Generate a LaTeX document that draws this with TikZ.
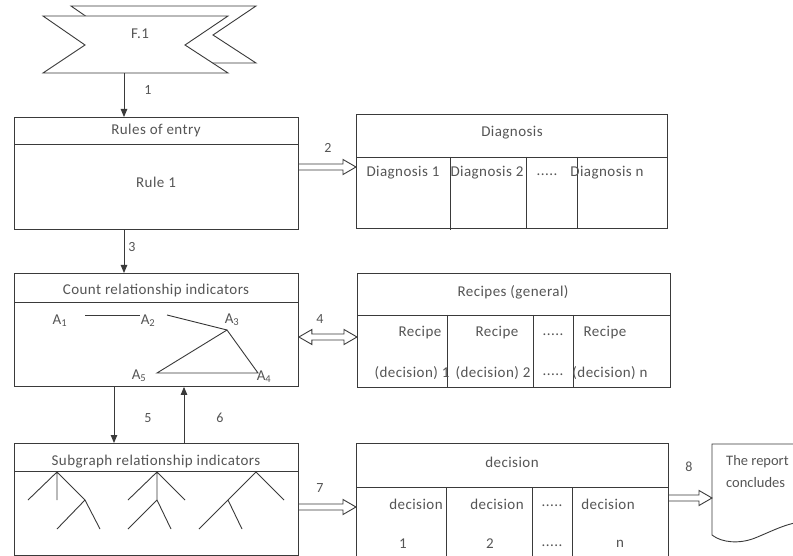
\documentclass[tikz,border=0pt]{standalone}
\usepackage{fontspec}
\setmainfont{Carlito}[LetterSpace=3]
\newfontfamily\plainfont{Carlito}
\usetikzlibrary{calc,arrows.meta}
\definecolor{ln}{HTML}{3A3A3A}
\definecolor{tx}{HTML}{555555}
\begin{document}
\begin{tikzpicture}[x=1pt,y=-1pt,
  font=\fontsize{15}{18}\selectfont,
  every node/.style={text=tx},
  box/.style={draw=ln, line width=0.9pt, anchor=north west, inner sep=0pt},
  ln/.style={draw=ln, line width=0.9pt},
  arr/.style={ln, -{Triangle[length=8pt,width=6.5pt]}},
  blk/.style={ln, to path={($(\tikztostart)+(0,-3)$) -- ($(\tikztotarget)+(-13,-3)$) -- ($(\tikztotarget)+(-13,-7.5)$) -- (\tikztotarget) -- ($(\tikztotarget)+(-13,7.5)$) -- ($(\tikztotarget)+(-13,3)$) -- ($(\tikztostart)+(0,3)$)}},
  dblk/.style={ln, to path={(\tikztostart) -- ($(\tikztostart)+(13,-7.5)$) -- ($(\tikztostart)+(13,-3)$) -- ($(\tikztotarget)+(-13,-3)$) -- ($(\tikztotarget)+(-13,-7.5)$) -- (\tikztotarget) -- ($(\tikztotarget)+(-13,7.5)$) -- ($(\tikztotarget)+(-13,3)$) -- ($(\tikztostart)+(13,3)$) -- ($(\tikztostart)+(13,7.5)$) -- cycle}},
  num/.style={font=\fontsize{14}{16}\selectfont}
]
\clip (0,0) rectangle (793,556);
\fill[white] (0,0) rectangle (793,556);

% banner F.1
\draw[ln, fill=white] (71,6) -- (256,6) -- (213,35) -- (256,63) -- (71,63) -- (113,35) -- cycle;
\draw[ln, fill=white] (43,16) -- (228,16) -- (185,45) -- (228,73) -- (43,73) -- (85,45) -- cycle;
\node[minimum width=185, minimum height=57, inner sep=0pt] (f1) at (135.5,44.5) {};
\node (f1t) at (140,34) {F.1};

% column coordinates
\coordinate (c1) at (124,0);
\coordinate (c5) at (114,0);
\coordinate (c6) at (184,0);
\coordinate (c2) at (0,167);
\coordinate (c4) at (0,337);
\coordinate (c7) at (0,507);
\coordinate (c8) at (0,498);

% Rules of entry
\node[box, minimum width=284, minimum height=112] (rules) at (14,117) {};
\draw[ln] (14,144) -- (298,144);
\node (rulesT) at (156,131) {Rules of entry};
\node (rule1) at (156,182) {Rule 1};

% Diagnosis
\node[box, minimum width=311, minimum height=114] (diag) at (356,114) {};
\draw[ln] (356,157) -- (667,157);
\draw[ln] (450,157) -- (450,230);
\draw[ln] (526,157) -- (526,228);
\draw[ln] (577,157) -- (577,228);
\node (diagT) at (512,133) {Diagnosis};
\node (d1) at (403,173) {Diagnosis 1};
\node (d2) at (487,173) {Diagnosis 2};
\node (d3) at (547,175) {.....};
\node (dn) at (607,173) {Diagnosis n};

% Count relationship indicators
\node[box, minimum width=284, minimum height=113] (count) at (14,273) {};
\draw[ln] (14,302) -- (298,302);
\node (countT) at (156,291) {Count relationship indicators};
\node (a1) at (60,321) {A\textsubscript{1}};
\node (a2) at (148,321) {A\textsubscript{2}};
\node (a3) at (232,320) {A\textsubscript{3}};
\node (a5) at (139,376) {A\textsubscript{5}};
\node (a4) at (264,377) {A\textsubscript{4}};
\draw[ln] (85,315) -- (140,315);
\draw[ln] (167,315) -- (227,330);
\draw[ln] (227,330) -- (157,373) -- (258,373) -- cycle;

% Recipes
\node[box, minimum width=313, minimum height=114] (rec) at (357,273) {};
\draw[ln] (357,315) -- (670,315);
\draw[ln] (447,315) -- (447,387);
\draw[ln] (533,315) -- (533,387);
\draw[ln] (573,315) -- (573,387);
\node (recT) at (513,292) {Recipes (general)};
\node (r1) at (420,333) {Recipe};
\node (r2) at (497,333) {Recipe};
\node (r3) at (553,335) {.....};
\node (rn) at (605,333) {Recipe};
\node (rd1) at (412,373) {(decision) 1};
\node (rd2) at (493,373) {(decision) 2};
\node (rd3) at (553,375) {.....};
\node (rdn) at (610,373) {(decision) n};

% Subgraph
\node[box, minimum width=284, minimum height=112] (sub) at (14,443) {};
\draw[ln] (14,471) -- (298,471);
\node (subT) at (156,462) {Subgraph relationship indicators};
\draw[ln] (57,472) -- (28,500) (57,472) -- (57,500) (57,472) -- (85,500) -- (57,529) (85,500) -- (100,529);
\draw[ln] (157,472) -- (128,500) (157,472) -- (185,500) (157,472) -- (157,500) -- (128,529) (157,500) -- (171,529);
\draw[ln] (256,472) -- (284,500) (256,472) -- (199,529) (228,500) -- (242,529);

% decision
\node[box, minimum width=312, minimum height=113] (dec) at (356,443) {};
\draw[ln] (356,487) -- (668,487);
\draw[ln] (446,487) -- (446,556);
\draw[ln] (532,487) -- (532,556);
\draw[ln] (572,487) -- (572,556);
\node (decT) at (512,462) {decision};
\node (e1) at (416,504) {decision};
\node (e2) at (497,504) {decision};
\node (e3) at (552,506) {.....};
\node (en) at (608,504) {decision};
\node (f1n) at (403,544) {1};
\node (f2n) at (490,544) {2};
\node (f3n) at (552,546) {.....};
\node (fnn) at (620,544) {n};

% report
\node[minimum width=90, minimum height=91, inner sep=0pt, anchor=north west] (report) at (712,444) {};
\draw[ln] (800,444) -- (712,444) -- (712,535) .. controls (722,543) and (740,544) .. (755,538) .. controls (770,532) and (785,524) .. (800,522);
\node[anchor=west, inner sep=0pt, font=\plainfont\fontsize{14.5}{17}\selectfont] (rep1) at (726,462) {The report};
\node[anchor=west, inner sep=0pt, font=\plainfont\fontsize{14.5}{17}\selectfont] (rep2) at (726,483) {concludes};

% connectors
\draw[arr] (f1.south -| c1) -- (rules.north -| c1);
\draw[arr] (rules.south -| c1) -- (count.north -| c1);
\draw[arr] (count.south -| c5) -- (sub.north -| c5);
\draw[arr] (sub.north -| c6) -- (count.south -| c6);
\draw[blk] (rules.east |- c2) to (diag.west |- c2);
\draw[dblk] (count.east |- c4) to (rec.west |- c4);
\draw[blk] (sub.east |- c7) to (dec.west |- c7);
\draw[blk] (dec.east |- c8) to (report.west |- c8);

% labels
\node[num] (l1) at (148,90) {1};
\node[num] (l2) at (328,148) {2};
\node[num] (l3) at (132,247) {3};
\node[num] (l4) at (320,319) {4};
\node[num] (l5) at (148,418) {5};
\node[num] (l6) at (220,418) {6};
\node[num] (l7) at (320,488) {7};
\node[num] (l8) at (689,467) {8};
\end{tikzpicture}
\end{document}
